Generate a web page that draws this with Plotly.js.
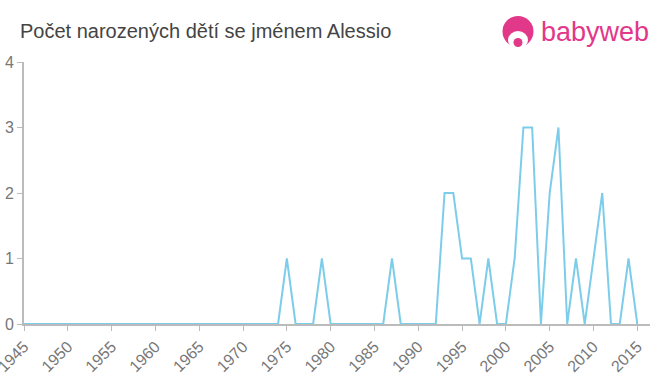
<!DOCTYPE html>
<html>
<head>
<meta charset="utf-8">
<script src="https://cdn.plot.ly/plotly-3.0.1.min.js"></script>
<style>html,body{margin:0;padding:0;background:#fff;}#chart{width:660px;height:375px;}</style>
</head>
<body>
<div id="chart"></div>
<script>
var years = [];
for (var y = 1945; y <= 2015; y++) years.push(y);
var counts = [
  0,0,0,0,0, 0,0,0,0,0,   // 1945-1954
  0,0,0,0,0, 0,0,0,0,0,   // 1955-1964
  0,0,0,0,0, 0,0,0,0,0,   // 1965-1974
  1,0,0,0,1, 0,0,0,0,0,   // 1975-1984
  0,0,1,0,0, 0,0,0,2,2,   // 1985-1994
  1,1,0,1,0, 0,1,3,3,0,   // 1995-2004
  2,3,0,1,0, 1,2,0,0,1,   // 2005-2014
  0                       // 2015
];
var tickVals = [1945,1950,1955,1960,1965,1970,1975,1980,1985,1990,1995,2000,2005,2010,2015];
var yTicks = [0,1,2,3,4];

var trace = {
  x: years, y: counts, type: 'scatter', mode: 'lines',
  line: {color: '#7dcdea', width: 2},
  hoverinfo: 'none', cliponaxis: false
};

function px(x) { return (x - 24) / 626; }
function py(y) { return (324 - y) / 262; }

var layout = {
  width: 660, height: 375,
  margin: {l: 24, r: 10, t: 62, b: 51, pad: 0},
  paper_bgcolor: '#fff', plot_bgcolor: '#fff',
  showlegend: false,
  font: {family: 'Liberation Sans, Arial, sans-serif', color: '#777', size: 16},
  title: {text: 'Počet narozených dětí se jménem Alessio', x: 20/660, xanchor: 'left', y: 1 - 31/375, yanchor: 'middle',
          font: {size: 20, color: '#444', family: 'Liberation Sans, Arial, sans-serif'}},
  xaxis: {
    range: [1945, 2016.45], tickvals: tickVals, ticktext: tickVals.map(String),
    tickangle: -45, showgrid: false, zeroline: false,
    showline: true, linecolor: '#bbb', linewidth: 2,
    ticks: 'outside', ticklen: 5, tickcolor: '#bbb', tickwidth: 1,
    ticklabeloverflow: 'allow',
    tickfont: {size: 16, color: '#777'}, fixedrange: true
  },
  yaxis: {
    range: [0, 4], tickvals: yTicks, showgrid: false, zeroline: false,
    showline: true, linecolor: '#bbb', linewidth: 2,
    ticks: 'outside', ticklen: 5, tickcolor: '#bbb', tickwidth: 1,
    ticklabeloverflow: 'allow',
    tickfont: {size: 16, color: '#777'}, fixedrange: true
  },
  shapes: [
    {type: 'circle', xref: 'paper', yref: 'paper', layer: 'above',
     x0: px(502.5), x1: px(533.5), y0: py(47), y1: py(16),
     fillcolor: '#e2388a', line: {width: 0}},
    {type: 'circle', xref: 'paper', yref: 'paper', layer: 'above',
     x0: px(508), x1: px(528), y0: py(49), y1: py(31),
     fillcolor: '#fff', line: {width: 0}},
    {type: 'circle', xref: 'paper', yref: 'paper', layer: 'above',
     x0: px(513.5), x1: px(522.5), y0: py(47), y1: py(38),
     fillcolor: '#e2388a', line: {width: 0}}
  ],
  annotations: [
    {text: 'babyweb', xref: 'paper', yref: 'paper', x: px(539), y: py(32),
     xanchor: 'left', yanchor: 'middle', showarrow: false,
     font: {size: 27, color: '#e2388a', family: 'Liberation Sans, Arial, sans-serif'}}
  ]
};

Plotly.newPlot('chart', [trace], layout, {displayModeBar: false, staticPlot: true});
</script>
</body>
</html>
